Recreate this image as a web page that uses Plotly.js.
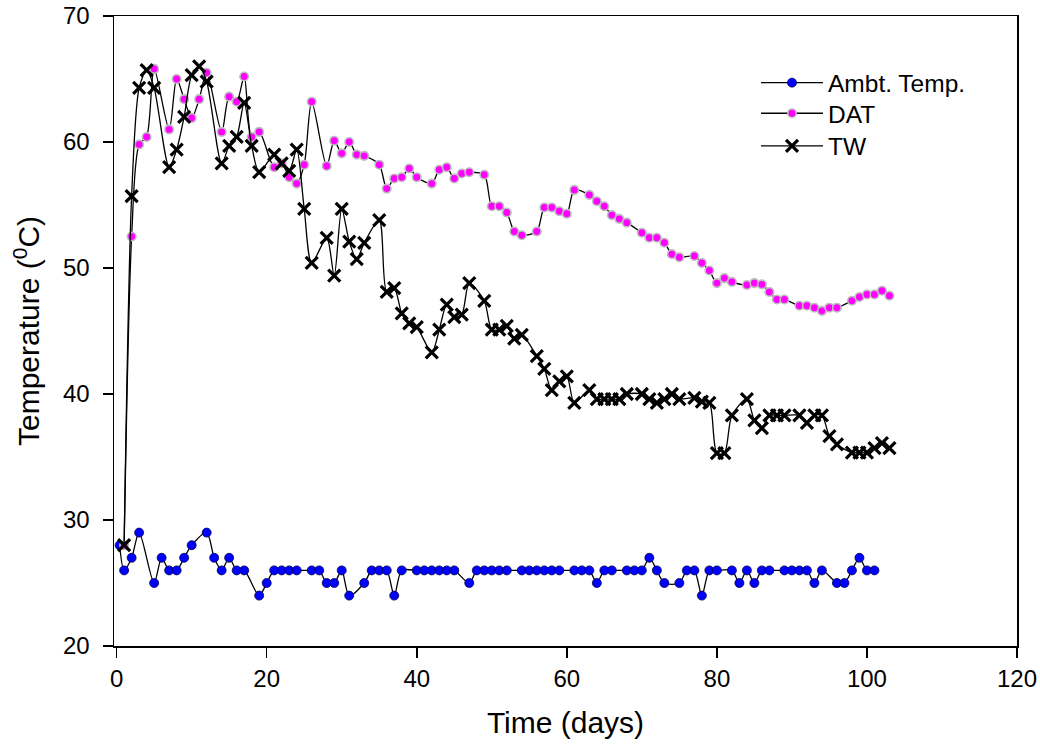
<!DOCTYPE html>
<html>
<head>
<meta charset="utf-8">
<script src="https://cdn.plot.ly/plotly-3.0.1.min.js"></script>
<style>html,body{margin:0;padding:0;background:#fff;}#chart{width:1040px;height:751px;}</style>
</head>
<body>
<div id="chart"></div>
<script>
// Ambient temperature
const ambDays = [0.4,1,2,3,5,6,7,8,9,10,12,13,14,15,16,17,19,20,21,22,23,24,26,27,28,29,30,31,33,34,35,36,37,38,40,41,42,43,44,45,47,48,49,50,51,52,54,55,56,57,58,59,61,62,63,64,65,66,68,69,70,71,72,73,75,76,77,78,79,80,82,83,84,85,86,87,89,90,91,92,93,94,96,97,98,99,100,101];
const ambTemp = [28,26,27,29,25,27,26,26,27,28,29,27,26,27,26,26,24,25,26,26,26,26,26,26,25,25,26,24,25,26,26,26,24,26,26,26,26,26,26,26,25,26,26,26,26,26,26,26,26,26,26,26,26,26,26,25,26,26,26,26,26,27,26,25,25,26,26,24,26,26,26,25,26,25,26,26,26,26,26,26,25,26,25,25,26,27,26,26];

// DAT and TW share measurement days
const wDays = [1,2,3,4,5,7,8,9,10,11,12,14,15,16,17,18,19,21,22,23,24,25,26,28,29,30,31,32,33,35,36,37,38,39,40,42,43,44,45,46,47,49,50,51,52,53,54,56,57,58,59,60,61,63,64,65,66,67,68,70,71,72,73,74,75,77,78,79,80,81,82,84,85,86,87,88,89,91,92,93,94,95,96,98,99,100,101,102,103];
const datTemp = [28,52.5,59.8,60.4,65.8,61.0,65.0,63.4,61.9,63.4,65.5,60.8,63.6,63.2,65.2,60.4,60.8,58.0,58.3,57.2,56.7,58.2,63.2,58.1,60.1,59.1,60.0,59.0,58.9,58.2,56.3,57.1,57.2,57.9,57.2,56.7,57.8,58.0,57.1,57.5,57.6,57.4,54.9,54.9,54.4,52.9,52.6,52.9,54.8,54.8,54.5,54.3,56.2,55.8,55.3,54.9,54.2,53.9,53.6,52.8,52.4,52.4,52.0,51.1,50.85,50.95,50.4,49.8,48.8,49.2,48.9,48.65,48.8,48.7,48.1,47.5,47.5,47.0,47.0,46.85,46.6,46.85,46.85,47.4,47.7,47.9,47.9,48.2,47.8];
const twTemp = [28,55.7,64.3,65.7,64.3,58.0,59.4,62.0,65.3,66.0,64.8,58.3,59.7,60.4,63.1,59.7,57.6,59.0,58.3,57.7,59.4,54.7,50.4,52.4,49.4,54.7,52.1,50.7,52.0,53.8,48.1,48.4,46.4,45.6,45.3,43.3,45.1,47.1,46.1,46.3,48.8,47.4,45.1,45.1,45.4,44.4,44.7,43.0,42.0,40.3,41.0,41.4,39.3,40.3,39.6,39.6,39.6,39.6,40.0,40.0,39.6,39.3,39.6,40.0,39.6,39.7,39.4,39.3,35.3,35.3,38.3,39.6,37.9,37.3,38.3,38.3,38.3,38.3,37.7,38.3,38.3,36.65,36.0,35.35,35.35,35.35,35.7,36.1,35.7];

const seriesNames = ["Ambt. Temp.", "DAT", "TW"];
const xTicks = [0,20,40,60,80,100,120];
const yTicks = [20,30,40,50,60,70];

const FONT = "Arial, 'Liberation Sans', sans-serif";
const lineStyle = {color: "#000", width: 1.3, shape: "spline", smoothing: 0.8};

const traces = [
  {x: ambDays, y: ambTemp, name: seriesNames[0], mode: "lines+markers", line: lineStyle, legend: "legend",
   marker: {symbol: "circle", size: 9, color: "#0000FF", line: {color: "#000050", width: 0.8}}},
  {x: wDays, y: datTemp, name: seriesNames[1], mode: "lines+markers", line: lineStyle, legend: "legend2",
   marker: {symbol: "circle", size: 8.5, color: "#FF00FF", line: {color: "#BDBDBD", width: 1.6}}},
  {x: wDays, y: twTemp, name: seriesNames[2], mode: "lines+markers", line: lineStyle, legend: "legend3",
   marker: {symbol: "x-thin", size: 12, color: "#000", line: {color: "#000", width: 3.2}}}
];

const legX = (756 - 114) / 903;
function legendAt(yPix) {
  return {x: legX, y: (646 - yPix) / 630, xanchor: "left", yanchor: "middle",
          bgcolor: "rgba(0,0,0,0)", borderwidth: 0,
          font: {family: FONT, size: 24.5, color: "#000"}, itemwidth: 62};
}

const layout = {
  width: 1040, height: 751,
  margin: {l: 114, r: 23, t: 16, b: 105, pad: 0},
  paper_bgcolor: "#fff", plot_bgcolor: "#fff",
  font: {family: FONT, color: "#000", size: 24},
  showlegend: true,
  legend: legendAt(82.7),
  legend2: legendAt(113.3),
  legend3: legendAt(146),
  xaxis: {range: [-0.35, 120], tickvals: xTicks, ticktext: xTicks.map(String),
          ticks: "outside", ticklen: 10, tickwidth: 1.5, tickcolor: "#000",
          showline: true, linecolor: "#000", linewidth: 1.5, mirror: true,
          showgrid: false, zeroline: false, ticklabelstandoff: 1,
          tickfont: {family: FONT, size: 24},
          title: {text: "Time (days)", font: {family: FONT, size: 30}, standoff: 20}},
  yaxis: {range: [20, 70], tickvals: yTicks, ticktext: yTicks.map(String),
          ticks: "outside", ticklen: 10, tickwidth: 1.5, tickcolor: "#000",
          showline: true, linecolor: "#000", linewidth: 1.5, mirror: true,
          showgrid: false, zeroline: false, ticklabelstandoff: 8,
          tickfont: {family: FONT, size: 24},
          title: {text: "Temperature (<sup>0</sup>C)", font: {family: FONT, size: 30}, standoff: 14}}
};

Plotly.newPlot("chart", traces, layout, {staticPlot: true, displayModeBar: false});
</script>
</body>
</html>
